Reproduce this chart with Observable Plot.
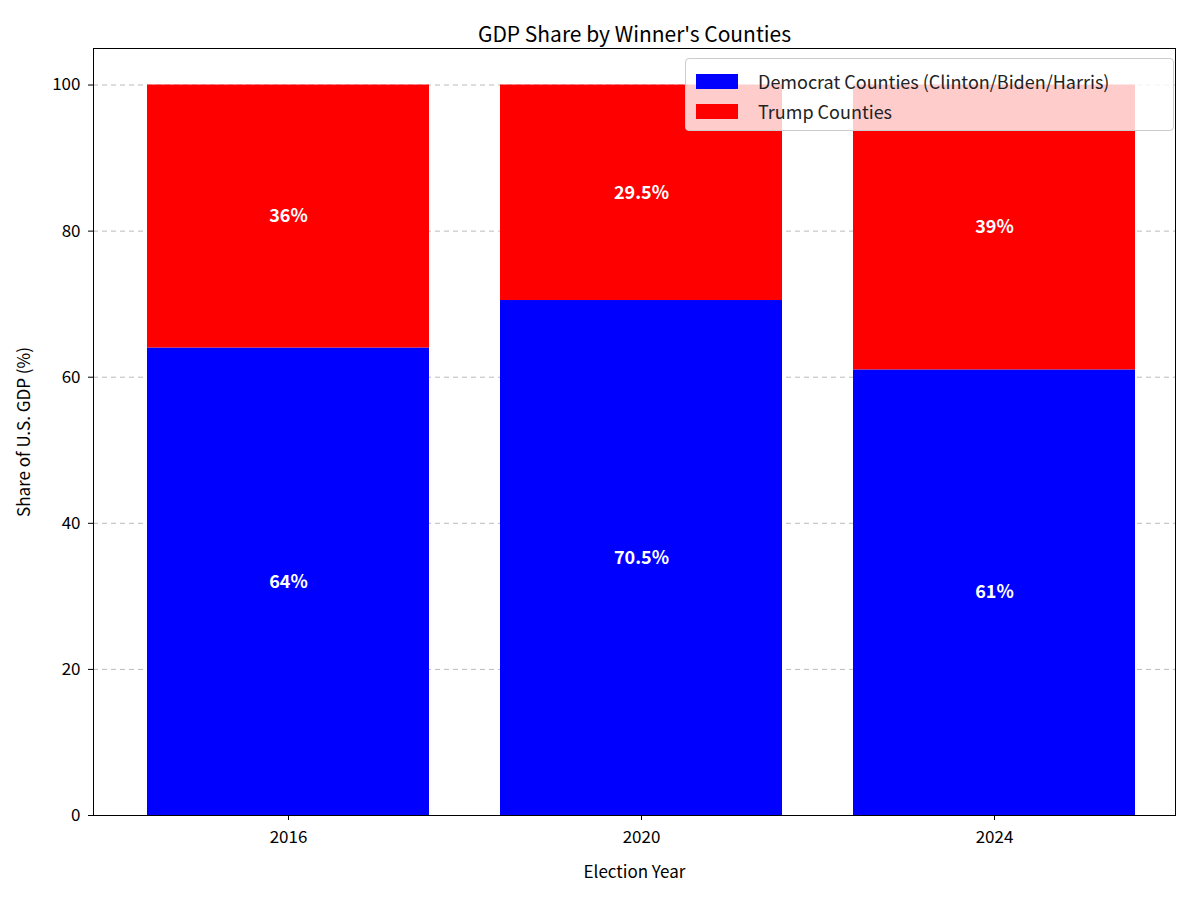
<!DOCTYPE html>
<html><head><meta charset="utf-8">
<script src="https://cdn.jsdelivr.net/npm/d3@7"></script>
<script src="https://cdn.jsdelivr.net/npm/@observablehq/plot@0.6"></script>
<style>
body{margin:0;background:#fff;font-family:"Noto Sans CJK JP","Noto Sans",sans-serif;}
#wrap{position:relative;width:1200px;height:900px;}
#legend{position:absolute;left:685px;top:58px;width:489px;height:73px;box-sizing:border-box;border:1px solid #ccc;border-radius:4px;background:rgba(255,255,255,0.8);font-size:18px;color:#222;padding:7px 10px;}
.row{display:flex;align-items:center;height:30px;}
.sw{width:42px;height:15px;margin-right:20px;}
</style></head><body>
<div id="wrap"><div id="legend"></div></div>
<script>
const years = ["2016","2020","2024"];
const dem = [64, 70.5, 61];
const trump = [36, 29.5, 39];
const series = ["Democrat Counties (Clinton/Biden/Harris)","Trump Counties"];
const colors = ["#0000ff","#ff0000"];

const rows = [];
years.forEach((y,i)=>{
  rows.push({year:y, s:series[0], y1:0, y2:dem[i], v:dem[i]});
  rows.push({year:y, s:series[1], y1:dem[i], y2:dem[i]+trump[i], v:trump[i]});
});
const font = '"Noto Sans CJK JP","Noto Sans",sans-serif';
const chart = Plot.plot({
  width:1200, height:900,
  marginTop:48, marginBottom:85, marginLeft:93, marginRight:25,
  style:{fontFamily:font, fontSize:"17px", color:"#000", background:"#fff"},
  x:{domain:years, paddingInner:0.2, paddingOuter:0.13, align:0.58, label:"Election Year", labelAnchor:"center", labelOffset:62, tickSize:5, tickPadding:10},
  y:{domain:[0,105], ticks:[0,20,40,60,80,100], label:"Share of U.S. GDP (%)", labelAnchor:"center", labelArrow:"none", labelOffset:76, tickSize:5, tickPadding:8},
  color:{domain:series, range:colors},
  marks:[
    Plot.gridY([20,40,60,80,100], {stroke:"#aaa", strokeOpacity:0.8, strokeDasharray:"5,4"}),
    Plot.rectY(rows, {x:"year", y1:"y1", y2:"y2", fill:"s"}),
    Plot.text(rows, {x:"year", y:d=>(d.y1+d.y2)/2, text:d=>d.v+"%", fill:"white", fontWeight:"bold", fontSize:18}),
    Plot.frame({stroke:"#000"}),
    Plot.text(["GDP Share by Winner's Counties"], {frameAnchor:"top", dy:-21, fontSize:21, fill:"#000"})
  ]
});
document.getElementById("wrap").prepend(chart);
document.getElementById("legend").innerHTML = series.map((s,i)=>`<div class="row"><div class="sw" style="background:${colors[i]}"></div>${s}</div>`).join("");
</script></body></html>
